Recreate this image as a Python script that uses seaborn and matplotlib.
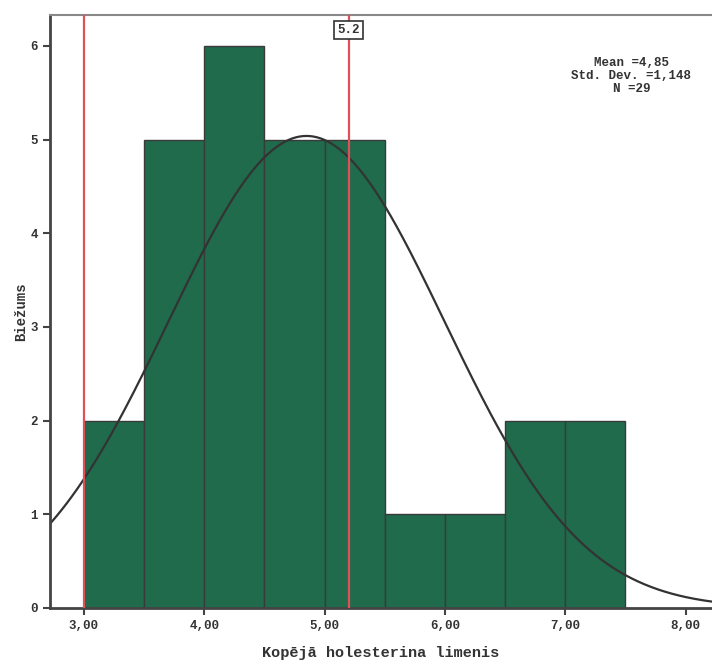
import numpy as np
import matplotlib
matplotlib.use("Agg")
import matplotlib.pyplot as plt
import seaborn as sns

# Data
bin_edges = [3.0, 3.5, 4.0, 4.5, 5.0, 5.5, 6.0, 6.5, 7.0, 7.5]
counts = [2, 5, 6, 5, 5, 1, 1, 2, 2]
mean_val = 4.85
std_val = 1.148
n_val = 29
ref_lines = [3.0, 5.2]
x_ticks = [3, 4, 5, 6, 7, 8]
x_tick_labels = ["3,00", "4,00", "5,00", "6,00", "7,00", "8,00"]
y_ticks = [0, 1, 2, 3, 4, 5, 6]

sns.set_style("white")
plt.rcParams['font.family'] = ['Liberation Mono', 'DejaVu Sans Mono']

fig = plt.figure(figsize=(7.12, 6.67), dpi=100)
ax = fig.add_axes([0.070, 0.0885, 0.93, 0.889])

centers = [(bin_edges[i] + bin_edges[i + 1]) / 2 for i in range(len(counts))]
sns.histplot(x=centers, weights=counts, bins=bin_edges, ax=ax,
             color="#1f6b4c", alpha=1.0, edgecolor="#3a3a3a", linewidth=1.0)

# Normal curve from mean/std
xs = np.linspace(2.6, 8.4, 400)
width = bin_edges[1] - bin_edges[0]
ys = n_val * width * np.exp(-0.5 * ((xs - mean_val) / std_val) ** 2) / (std_val * np.sqrt(2 * np.pi))
sns.lineplot(x=xs, y=ys, ax=ax, color="#333333", linewidth=1.6)

for xv in ref_lines:
    ax.axvline(xv, color="#e0505a", linewidth=1.6, zorder=5)

ax.text(5.2, 6.17, "5.2", ha="center", va="center", fontsize=9, fontweight="bold",
        color="#333333",
        bbox=dict(boxstyle="square,pad=0.25", fc="white", ec="#333333", lw=1.2), zorder=6)

mean_txt = f"{mean_val:.2f}".replace(".", ",")
std_txt = f"{std_val:.3f}".replace(".", ",")
ax.text(7.55, 5.82, f"Mean ={mean_txt}", ha="center", va="center",
        fontsize=9, fontweight="bold", color="#333333")
ax.text(7.55, 5.68, f"Std. Dev. ={std_txt}", ha="center", va="center",
        fontsize=9, fontweight="bold", color="#333333")
ax.text(7.55, 5.54, f"N ={n_val}", ha="center", va="center",
        fontsize=9, fontweight="bold", color="#333333")

ax.set_xlim(2.717, 8.22)
ax.set_ylim(0, 6.33)
ax.set_xticks(x_ticks)
ax.set_xticklabels(x_tick_labels, fontsize=9, fontweight="bold", color="#333333")
ax.set_yticks(y_ticks)
ax.set_yticklabels([str(v) for v in y_ticks], fontsize=9, fontweight="bold", color="#333333")
ax.tick_params(axis="both", direction="out", length=5, width=1.5, color="#444444", bottom=True, left=True)
ax.set_xlabel("Kopējā holesterina limenis", fontsize=11, fontweight="bold", color="#333333", labelpad=10)
ax.set_ylabel("Biežums", fontsize=10, fontweight="bold", color="#333333", labelpad=2)

for side in ["left", "bottom"]:
    ax.spines[side].set_color("#444444")
    ax.spines[side].set_linewidth(2)
ax.spines["top"].set_color("#888888")
ax.spines["top"].set_linewidth(1.5)
ax.spines["top"].set_linestyle((0, (4, 1)))
ax.spines["right"].set_visible(False)

fig.savefig("out.png", dpi=100)
